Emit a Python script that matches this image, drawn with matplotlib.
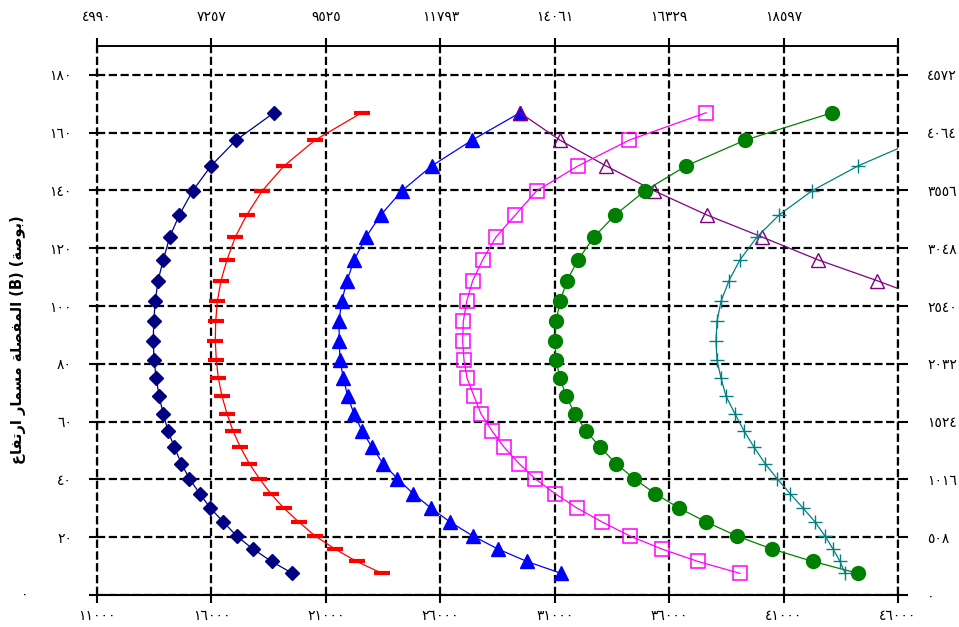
import matplotlib
matplotlib.use('Agg')
import matplotlib.pyplot as plt

plt.rcParams['font.family'] = ['DejaVu Sans']

# pin height (inch), shared by all curves, top to bottom
heights = [166.9, 157.4, 148.5, 139.9, 131.5, 123.9, 116.0, 108.8, 101.6, 94.7,
           87.9, 81.3, 75.1, 68.8, 62.7, 56.8, 51.2, 45.5, 40.3, 35.1,
           30.1, 25.3, 20.4, 15.9, 11.6, 7.5]

navy_x = [18734, 17074, 15981, 15182, 14596, 14177, 13897, 13665, 13547, 13477,
          13460, 13490, 13591, 13709, 13897, 14102, 14378, 14684, 15033, 15487,
          15951, 16519, 17104, 17817, 18634, 19534]
red_x = [22566, 20525, 19171, 18222, 17541, 17043, 16680, 16418, 16257, 16187,
         16169, 16213, 16300, 16462, 16680, 16943, 17262, 17655, 18092, 18590,
         19158, 19813, 20539, 21399, 22347, 23453]
blue_x = [29483, 27386, 25625, 24327, 23396, 22754, 22243, 21924, 21692, 21574,
          21587, 21618, 21762, 21954, 22230, 22579, 23016, 23497, 24122, 24808,
          25594, 26424, 27430, 28522, 29789, 31275]
magenta_x = [37611, 34247, 32018, 30213, 29278, 28434, 27853, 27416, 27154, 27005,
             26979, 27036, 27167, 27473, 27779, 28259, 28784, 29439, 30138, 31012,
             31973, 33066, 34289, 35688, 37261, 39096]
green_x = [43117, 39315, 36737, 34946, 33635, 32717, 32018, 31538, 31232, 31057,
           31013, 31057, 31232, 31494, 31887, 32368, 32979, 33679, 34465, 35383,
           36432, 37611, 38966, 40495, 42287, 44253]
teal_x = [49600, 44253, 42243, 40800, 39839, 39096, 38615, 38266, 38091, 38048,
          38091, 38266, 38484, 38877, 39271, 39708, 40189, 40713, 41281, 41849,
          42374, 42811, 43161, 43467, 43685]
teal_h = heights[:1] + heights[2:]
purple_x = [29483, 31232, 33242, 35339, 37655, 40058, 42505, 45083, 47500]
purple_h = heights[:9]

# axis ticks: lb (bottom), kg (top), inch (left), mm (right)
lb_ticks = [11000, 16000, 21000, 26000, 31000, 36000, 41000, 46000]
kg_labels = [4990, 7257, 9525, 11793, 14061, 16329, 18597, None]
inch_ticks = [0, 20, 40, 60, 80, 100, 120, 140, 160, 180]
mm_labels = [0, 508, 1016, 1524, 2032, 2540, 3048, 3556, 4064, 4572]

# visual-order glyphs (presentation forms) for the Arabic axis title
ylabel = '\ufec9\ufe8e\ufed4\ufe97\ufead\ufe8d \ufead\ufe8e\ufee4\ufeb4\ufee3 ' \
         '\ufe94\ufee0\ufebc\ufed4\ufee4\ufedf\ufe8d (B) (\ufe94\ufebb\ufeee\ufe91)'

digits = str.maketrans('0123456789', '٠١٢٣٤٥٦٧٨٩')
def ar(n):
    return '' if n is None else str(n).translate(digits)

fig = plt.figure(figsize=(9.59, 6.27), dpi=100)
ax = fig.add_axes([97/959, 1-595/627, 801/959, 549/627])

ax.plot(navy_x, heights, color='#000080', lw=0.9, marker='D', ms=7.5)
ax.plot(red_x, heights, color='#ff0000', lw=0.9, marker='_', ms=11, mew=3)
ax.plot(blue_x, heights, color='#0000ff', lw=0.9, marker='^', ms=10)
ax.plot(purple_x, purple_h, color='#800080', lw=0.9, marker='^', ms=10, mfc='none', mew=1)
ax.plot(magenta_x, heights, color='#ff00ff', lw=0.9, marker='s', ms=9.5, mfc='none', mew=1.1)
ax.plot(green_x, heights, color='#008000', lw=0.9, marker='o', ms=10)
ax.plot(teal_x, teal_h, color='#008080', lw=0.9, marker='+', ms=10, mew=1)

ax.set_xlim(11000, 46000)
ax.set_ylim(0, 190)
ax.set_xticks(lb_ticks)
ax.set_xticklabels([ar(v) for v in lb_ticks], fontsize=10)
ax.set_yticks(inch_ticks)
ax.set_yticklabels([''] + [ar(v) for v in inch_ticks[1:]], fontsize=10)
ax.tick_params(axis='both', direction='out', length=6, width=1.5, color='black')
ax.tick_params(axis='x', pad=4)
ax.tick_params(axis='y', pad=12)

ax.grid(True, color='black', ls='--', lw=1.6)
for x in (11000, 46000):
    ax.axvline(x, color='black', ls='--', lw=1.6, clip_on=False, zorder=0.6)
for s in ('left', 'right'):
    ax.spines[s].set_visible(False)
ax.spines['bottom'].set_linewidth(1.5)
ax.spines['top'].set_linewidth(1.2)

top = ax.twiny()
top.set_xlim(ax.get_xlim())
top.set_xticks(lb_ticks)
top.set_xticklabels([ar(v) for v in kg_labels], fontsize=10)
top.tick_params(direction='out', length=6, width=1.5, pad=10)
for s in ('left', 'right', 'bottom'):
    top.spines[s].set_visible(False)
top.spines['top'].set_linewidth(1.2)

right = ax.twinx()
right.set_ylim(ax.get_ylim())
right.set_yticks(inch_ticks)
right.set_yticklabels([ar(v) for v in mm_labels], fontsize=10)
right.tick_params(direction='out', length=7, width=1.5, pad=14)
for s in ('left', 'top', 'bottom', 'right'):
    right.spines[s].set_visible(False)

# the zero on the left sits apart from the other labels
fig.text(25/959, 1-595/627, ar(0), fontsize=10, ha='center', va='center')
fig.text(18/959, 1-340/627, ylabel, rotation=90, ha='center', va='center',
         fontsize=10.5, fontweight='bold')

fig.savefig('out.png', dpi=100)
